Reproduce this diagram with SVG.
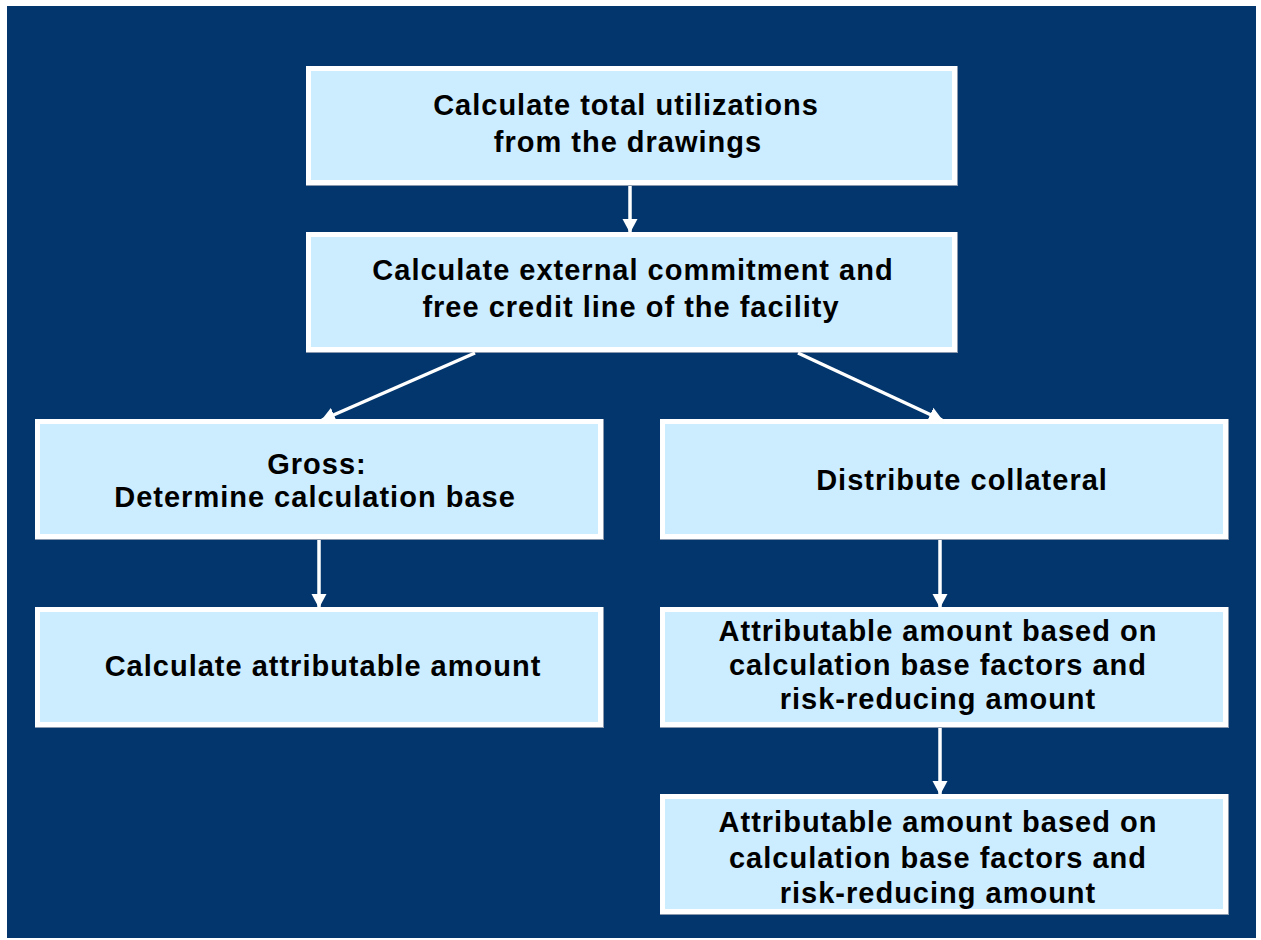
<svg xmlns="http://www.w3.org/2000/svg" width="1261" height="940" viewBox="0 0 1261 940">
  <style>
    .shadow { fill: #8a99ad; }
    .box { fill: #CCECFF; stroke: #FFFFFF; stroke-width: 5; }
    .lbl { font-family: "Liberation Sans", Arial, sans-serif; font-weight: bold; font-size: 29px; letter-spacing: 1px; fill: #000; text-anchor: middle; }
    .conn { stroke: #FFFFFF; stroke-width: 3.5; fill: none; marker-end: url(#ah); }
  </style>
  <defs>
    <marker id="ah" markerUnits="userSpaceOnUse" markerWidth="14" markerHeight="16" viewBox="0 0 14 16" refX="13" refY="8" orient="auto">
      <path d="M0,0.5 L14,8 L0,15.5 z" fill="#FFFFFF"/>
    </marker>
  </defs>
  <rect x="0" y="0" width="1261" height="940" fill="#FFFFFF"/>
  <rect x="7" y="6" width="1249" height="932" fill="#03366C"/>

  <g id="n1">
    <rect class="shadow" x="306" y="66" width="652" height="120"/>
    <rect class="box" x="308.5" y="68.5" width="646" height="114"/>
    <text class="lbl" x="626" y="115">Calculate total utilizations</text>
    <text class="lbl" x="628" y="152">from the drawings</text>
  </g>
  <g id="n2">
    <rect class="shadow" x="306" y="232" width="652" height="121"/>
    <rect class="box" x="308.5" y="234.5" width="646" height="115"/>
    <text class="lbl" x="633" y="280">Calculate external commitment and</text>
    <text class="lbl" x="631" y="317">free credit line of the facility</text>
  </g>
  <g id="n3">
    <rect class="shadow" x="35" y="419" width="569" height="121"/>
    <rect class="box" x="37.5" y="421.5" width="563" height="115"/>
    <text class="lbl" x="317" y="474">Gross:</text>
    <text class="lbl" x="315" y="507">Determine calculation base</text>
  </g>
  <g id="n4">
    <rect class="shadow" x="660" y="419" width="569" height="121"/>
    <rect class="box" x="662.5" y="421.5" width="563" height="115"/>
    <text class="lbl" x="962" y="490">Distribute collateral</text>
  </g>
  <g id="n5">
    <rect class="shadow" x="35" y="607" width="569" height="121"/>
    <rect class="box" x="37.5" y="609.5" width="563" height="115"/>
    <text class="lbl" x="323" y="676">Calculate attributable amount</text>
  </g>
  <g id="n6">
    <rect class="shadow" x="660" y="607" width="569" height="121"/>
    <rect class="box" x="662.5" y="609.5" width="563" height="115"/>
    <text class="lbl" x="938" y="641">Attributable amount based on</text>
    <text class="lbl" x="938" y="675">calculation base factors and</text>
    <text class="lbl" x="938" y="709">risk-reducing amount</text>
  </g>
  <g id="n7">
    <rect class="shadow" x="660" y="794" width="569" height="121"/>
    <rect class="box" x="662.5" y="796.5" width="563" height="115"/>
    <text class="lbl" x="938" y="832">Attributable amount based on</text>
    <text class="lbl" x="938" y="868">calculation base factors and</text>
    <text class="lbl" x="938" y="903">risk-reducing amount</text>
  </g>

  <g id="connectors">
    <line class="conn" x1="630" y1="186" x2="630" y2="232"/>
    <line class="conn" x1="475" y1="353" x2="322" y2="420"/>
    <line class="conn" x1="798" y1="353" x2="942" y2="420"/>
    <line class="conn" x1="319" y1="540" x2="319" y2="607"/>
    <line class="conn" x1="940" y1="540" x2="940" y2="607"/>
    <line class="conn" x1="940" y1="728" x2="940" y2="794"/>
  </g>
</svg>
